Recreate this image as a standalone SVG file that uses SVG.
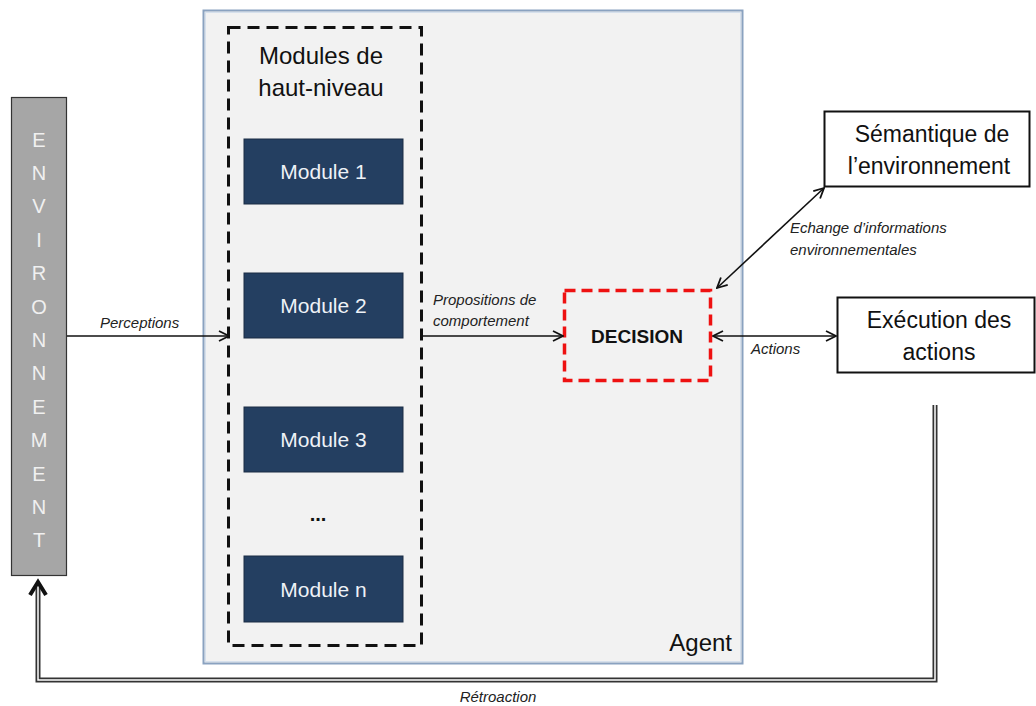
<svg xmlns="http://www.w3.org/2000/svg" width="1036" height="706" viewBox="0 0 1036 706">
<style>
.t{font-family:"Liberation Sans",Arial,sans-serif;}
.lbl{font-family:"Liberation Sans",Arial,sans-serif;font-style:italic;font-size:15px;fill:#222;}
.mod{fill:#243f61;stroke:#1a2c44;stroke-width:1;}
.modt{font-family:"Liberation Sans",Arial,sans-serif;font-size:21px;fill:#eef2f7;text-anchor:middle;}
.env{font-family:"Liberation Sans",Arial,sans-serif;font-size:20px;fill:#f0f0f0;text-anchor:middle;}
.ln{fill:none;stroke:#111;stroke-width:1.6;}
.big{font-family:"Liberation Sans",Arial,sans-serif;font-size:23px;fill:#111;text-anchor:middle;}
</style>
<defs>
<marker id="arr" viewBox="0 0 12 12" refX="11" refY="6" markerWidth="12" markerHeight="12" markerUnits="userSpaceOnUse" orient="auto-start-reverse">
<path d="M1,1 L11,6 L1,11" fill="none" stroke="#111" stroke-width="1.8"/>
</marker>
</defs>
<rect width="1036" height="706" fill="#ffffff"/>

<g id="agent">
<rect x="203.5" y="10.5" width="539" height="653" fill="#f2f2f2" stroke="#8aa2c0" stroke-width="2"/>
<rect x="205.5" y="12.5" width="535" height="649" fill="none" stroke="#d6e0ec" stroke-width="1"/>
<text class="t" x="732" y="651" font-size="24" text-anchor="end" fill="#111">Agent</text>
</g>

<g id="environnement">
<rect x="11.5" y="97.5" width="55" height="478" fill="#a6a6a6" stroke="#333" stroke-width="1.2"/>
<text class="env" x="39" y="147">E</text>
<text class="env" x="39" y="180">N</text>
<text class="env" x="39" y="213">V</text>
<text class="env" x="39" y="247">I</text>
<text class="env" x="39" y="280">R</text>
<text class="env" x="39" y="314">O</text>
<text class="env" x="39" y="347">N</text>
<text class="env" x="39" y="380">N</text>
<text class="env" x="39" y="414">E</text>
<text class="env" x="39" y="447">M</text>
<text class="env" x="39" y="481">E</text>
<text class="env" x="39" y="514">N</text>
<text class="env" x="39" y="547">T</text>
</g>

<g id="modules-haut-niveau">
<rect x="228.5" y="27.5" width="193" height="618" fill="none" stroke="#111" stroke-width="3" stroke-dasharray="12 7"/>
<text class="t" x="321" y="64" font-size="24" text-anchor="middle" fill="#111">Modules de</text>
<text class="t" x="321" y="96" font-size="24" text-anchor="middle" fill="#111">haut-niveau</text>
</g>

<g id="module-1">
<rect class="mod" x="244" y="139" width="159" height="65"/>
<text class="modt" x="323.5" y="179">Module 1</text>
</g>
<g id="module-2">
<rect class="mod" x="244" y="273" width="159" height="65"/>
<text class="modt" x="323.5" y="313">Module 2</text>
</g>
<g id="module-3">
<rect class="mod" x="244" y="407" width="159" height="65"/>
<text class="modt" x="323.5" y="447">Module 3</text>
</g>
<g id="ellipsis">
<text class="t" x="318" y="521" font-size="20" font-weight="bold" text-anchor="middle" fill="#111">...</text>
</g>
<g id="module-n">
<rect class="mod" x="244" y="556" width="159" height="66"/>
<text class="modt" x="323.5" y="597">Module n</text>
</g>

<g id="decision">
<rect x="564.5" y="290.5" width="146" height="90" fill="none" stroke="#ee1111" stroke-width="3.5" stroke-dasharray="11 6"/>
<text class="t" x="637" y="343" font-size="19" font-weight="bold" text-anchor="middle" fill="#111">DECISION</text>
</g>

<g id="semantique">
<rect x="824.5" y="111.5" width="205" height="75" fill="#fff" stroke="#111" stroke-width="2"/>
<text class="big" x="932" y="142">Sémantique de</text>
<text class="big" x="929" y="174">l’environnement</text>
</g>

<g id="execution">
<rect x="837.5" y="297.5" width="197" height="75" fill="#fff" stroke="#111" stroke-width="2"/>
<text class="big" x="939" y="328">Exécution des</text>
<text class="big" x="939" y="360">actions</text>
</g>

<g id="connectors">
<line class="ln" x1="67" y1="336" x2="229" y2="336" marker-end="url(#arr)"/>
<text class="lbl" x="100" y="328">Perceptions</text>
<line class="ln" x1="422" y1="336" x2="563" y2="336" marker-end="url(#arr)"/>
<text class="lbl" x="433" y="305">Propositions de</text>
<text class="lbl" x="433" y="326">comportement</text>
<line class="ln" x1="713" y1="336" x2="836" y2="336" marker-start="url(#arr)" marker-end="url(#arr)"/>
<text class="lbl" x="751" y="354">Actions</text>
<line class="ln" x1="717" y1="288" x2="824" y2="188" marker-start="url(#arr)" marker-end="url(#arr)"/>
<text class="lbl" x="790" y="233">Echange d’informations</text>
<text class="lbl" x="790" y="255">environnementales</text>
<path d="M935,405 V680 H38 V584" fill="none" stroke="#333" stroke-width="5"/>
<path d="M935,405 V680 H38 V584" fill="none" stroke="#fff" stroke-width="1.5"/>
<path d="M30,595 L38,582 L46,595" fill="none" stroke="#111" stroke-width="4"/>
<text class="lbl" x="498" y="702" text-anchor="middle">Rétroaction</text>
</g>
</svg>
